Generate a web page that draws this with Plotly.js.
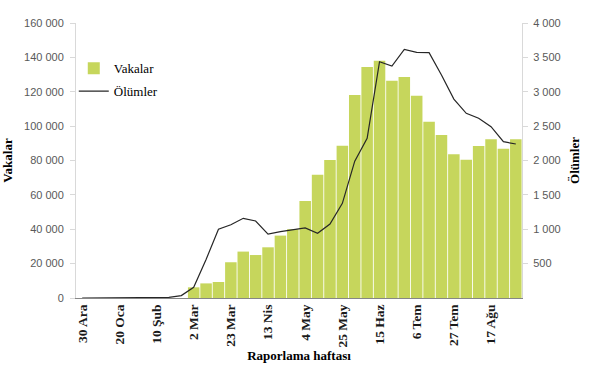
<!DOCTYPE html>
<html>
<head>
<meta charset="utf-8">
<script src="https://cdn.plot.ly/plotly-3.0.1.min.js"></script>
<style>html,body{margin:0;padding:0;background:#fff;}#chart{width:605px;height:372px;}</style>
</head>
<body>
<div id="chart"></div>
<script>
// Reporting weeks (Raporlama haftası)
var weeks = ["30 Ara","6 Oca","13 Oca","20 Oca","27 Oca","3 Şub","10 Şub","17 Şub","24 Şub",
  "2 Mar","9 Mar","16 Mar","23 Mar","30 Mar","6 Nis","13 Nis","20 Nis","27 Nis",
  "4 May","11 May","18 May","25 May","1 Haz","8 Haz","15 Haz","22 Haz","29 Haz",
  "6 Tem","13 Tem","20 Tem","27 Tem","3 Ağu","10 Ağu","17 Ağu","24 Ağu","31 Ağu"];
// Cases (Vakalar)
var cases = [null,null,null,null,null,null,null,null,null,
  6200,8500,9300,20800,27000,25000,29500,36300,40000,
  56400,71700,80300,88600,118100,134400,138100,126400,128600,
  117700,102600,94800,83600,80500,88400,92300,86900,92300];
// Deaths (Ölümler)
var deaths = [0,0,0,0,0,0,2,10,35,
  155,560,1000,1065,1159,1120,929,965,989,
  1020,941,1076,1377,1990,2323,3437,3374,3617,3574,
  3568,3243,2894,2686,2614,2492,2274,2240];
// Labelled weeks on the x axis
var tickWeeks = ["30 Ara","20 Oca","10 Şub","2 Mar","23 Mar","13 Nis","4 May","25 May","15 Haz","6 Tem","27 Tem","17 Ağu"];
var leftTicks = [0,20000,40000,60000,80000,100000,120000,140000,160000];
var rightTicks = [500,1000,1500,2000,2500,3000,3500,4000];

var serif = "Liberation Serif, Times New Roman, serif";
var sans = "Liberation Sans, Arial, sans-serif";

var data = [
  {type:"bar", name:"Vakalar", x:weeks, y:cases, marker:{color:"#c6d65c"}, yaxis:"y", legendgroup:"a"},
  {type:"scatter", mode:"lines", name:"Ölümler", x:weeks, y:deaths, line:{color:"#262626", width:1.2}, yaxis:"y2", legendgroup:"b"}
];

var layout = {
  width:605, height:372,
  margin:{l:76, r:83, t:23, b:74},
  paper_bgcolor:"#fff", plot_bgcolor:"#fff",
  separators:", ",
  bargap:0.07,
  showlegend:true,
  legend:{x:-0.005, y:0.89, xanchor:"left", yanchor:"top", bgcolor:"rgba(0,0,0,0)",
    font:{family:serif, size:13, color:"#000"}, tracegroupgap:3, itemwidth:30},
  xaxis:{type:"category", tickmode:"array", tickvals:tickWeeks, ticktext:tickWeeks,
    tickangle:-90, tickfont:{family:serif, size:13.5, color:"#1a1a1a", weight:"bold"},
    showline:true, linecolor:"#868686", linewidth:1, ticks:"", showgrid:false, zeroline:false,
    title:{text:"<b>Raporlama haftası</b>", font:{family:serif, size:13, color:"#000"}, standoff:4}},
  yaxis:{range:[0,160000], tickvals:leftTicks, tickformat:",d", showgrid:false, zeroline:false,
    showline:true, linecolor:"#d9d9d9", ticks:"outside", ticklen:5, tickcolor:"#d9d9d9",
    ticklabelstandoff:4,
    tickfont:{family:sans, size:11, color:"#595959"},
    title:{text:"<b>Vakalar</b>", font:{family:serif, size:13, color:"#000"}, standoff:8}},
  yaxis2:{range:[0,4000], overlaying:"y", side:"right", tickvals:rightTicks, tickformat:",d",
    showgrid:false, zeroline:false, showline:true, linecolor:"#d9d9d9", ticks:"outside",
    ticklen:5, tickcolor:"#d9d9d9", ticklabelstandoff:3, tickfont:{family:sans, size:11, color:"#595959"},
    title:{text:"<b>Ölümler</b>", font:{family:serif, size:13, color:"#000"}, standoff:10}}
};

Plotly.newPlot("chart", data, layout, {displayModeBar:false, staticPlot:true});
</script>
</body>
</html>
